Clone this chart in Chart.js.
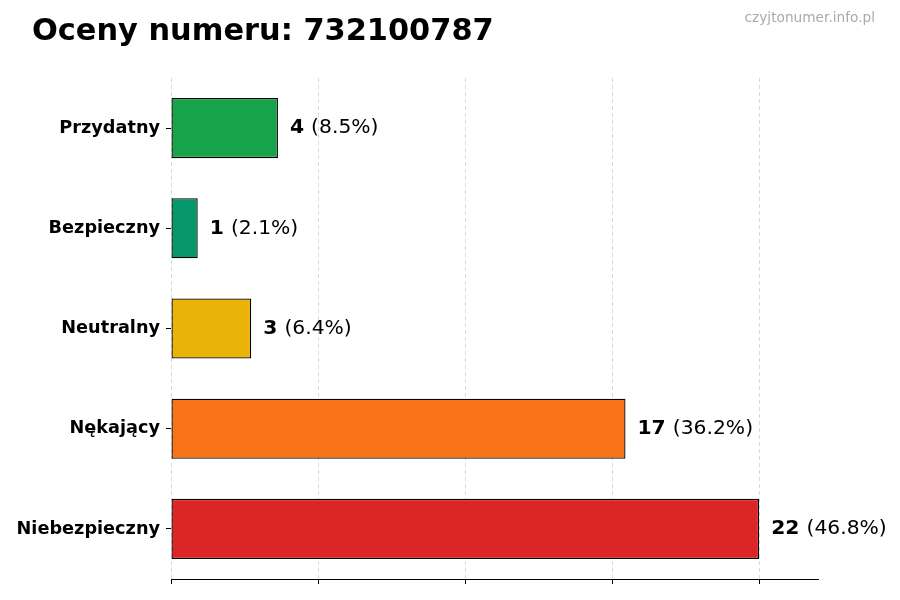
<!DOCTYPE html>
<html>
<head>
<meta charset="utf-8">
<script src="https://cdn.jsdelivr.net/npm/chart.js@4"></script>
<style>
  html, body { margin: 0; padding: 0; background: #fff; }
  #wrap { width: 900px; height: 600px; position: relative; }
</style>
</head>
<body>
<div id="wrap"><canvas id="ratings-chart" width="900" height="600"></canvas></div>
<script>
const chartTitle = 'Oceny numeru: 732100787'
const watermark = 'czyjtonumer.info.pl'
const categories = ['Przydatny', 'Bezpieczny', 'Neutralny', 'Nękający', 'Niebezpieczny']
const counts = [4, 1, 3, 17, 22]
const barColors = ['#16a34a', '#059669', '#eab308', '#f97316', '#dc2626']
const xTicks = [0, 5.5, 11, 16.5, 22]
const xMax = 24.2

initChart()

function initChart() {
  const ctx = document.getElementById('ratings-chart')
  const total = counts.reduce((a, b) => a + b, 0)

  // title, watermark and value labels
  const annotations = {
    id: 'annotations',
    afterDraw(chart) {
      const c = chart.ctx
      c.save()
      c.fillStyle = '#000'
      c.textBaseline = 'alphabetic'
      c.textAlign = 'left'
      c.font = 'bold 30.4px "DejaVu Sans"'
      c.fillText(chartTitle, 32, 40)

      c.fillStyle = '#aaaaaa'
      c.textAlign = 'right'
      c.font = '13.7px "DejaVu Sans"'
      c.fillText(watermark, 875, 22)

      const meta = chart.getDatasetMeta(0)
      c.textAlign = 'left'
      c.textBaseline = 'middle'
      c.fillStyle = '#000'
      meta.data.forEach((bar, i) => {
        const x = bar.x + 12
        const y = bar.y
        const num = String(counts[i])
        c.font = 'bold 20.3px "DejaVu Sans"'
        c.fillText(num, x, y)
        const w = c.measureText(num + ' ').width
        c.font = '20.3px "DejaVu Sans"'
        const pct = (counts[i] / total * 100).toFixed(1)
        c.fillText('(' + pct + '%)', x + w, y)
      })
      c.restore()
    },
  }

  new Chart(ctx, {
    type: 'bar',
    data: {
      labels: categories,
      datasets: [
        {
          data: counts,
          backgroundColor: barColors,
          borderColor: '#000',
          borderWidth: 1.3,
          borderSkipped: false,
          barPercentage: 0.6,
          categoryPercentage: 1,
        },
      ],
    },
    options: {
      indexAxis: 'y',
      responsive: false,
      animation: false,
      devicePixelRatio: 1,
      layout: { padding: { left: 0, top: 78, right: 82, bottom: 0 } },
      plugins: {
        legend: { display: false },
        tooltip: { enabled: false },
      },
      scales: {
        x: {
          min: 0,
          max: xMax,
          afterBuildTicks(scale) {
            scale.ticks = xTicks.map((v) => ({ value: v }))
          },
          afterFit(scale) {
            scale.height = 21
          },
          ticks: { display: false },
          grid: {
            color: '#d9d9d9',
            lineWidth: 1,
            drawTicks: true,
            tickLength: 5,
            tickColor: '#000',
            tickBorderDash: [],
          },
          border: { display: true, color: '#000', width: 1, dash: [4, 3] },
        },
        y: {
          afterFit(scale) {
            scale.width = 171
          },
          ticks: {
            color: '#000',
            padding: 6,
            font: { family: 'DejaVu Sans', size: 17.7, weight: 'bold' },
          },
          grid: {
            offset: false,
            drawOnChartArea: false,
            drawTicks: true,
            tickLength: 5,
            tickColor: '#000',
          },
          border: { display: false },
        },
      },
    },
    plugins: [annotations],
  })
}
</script>
</body>
</html>
